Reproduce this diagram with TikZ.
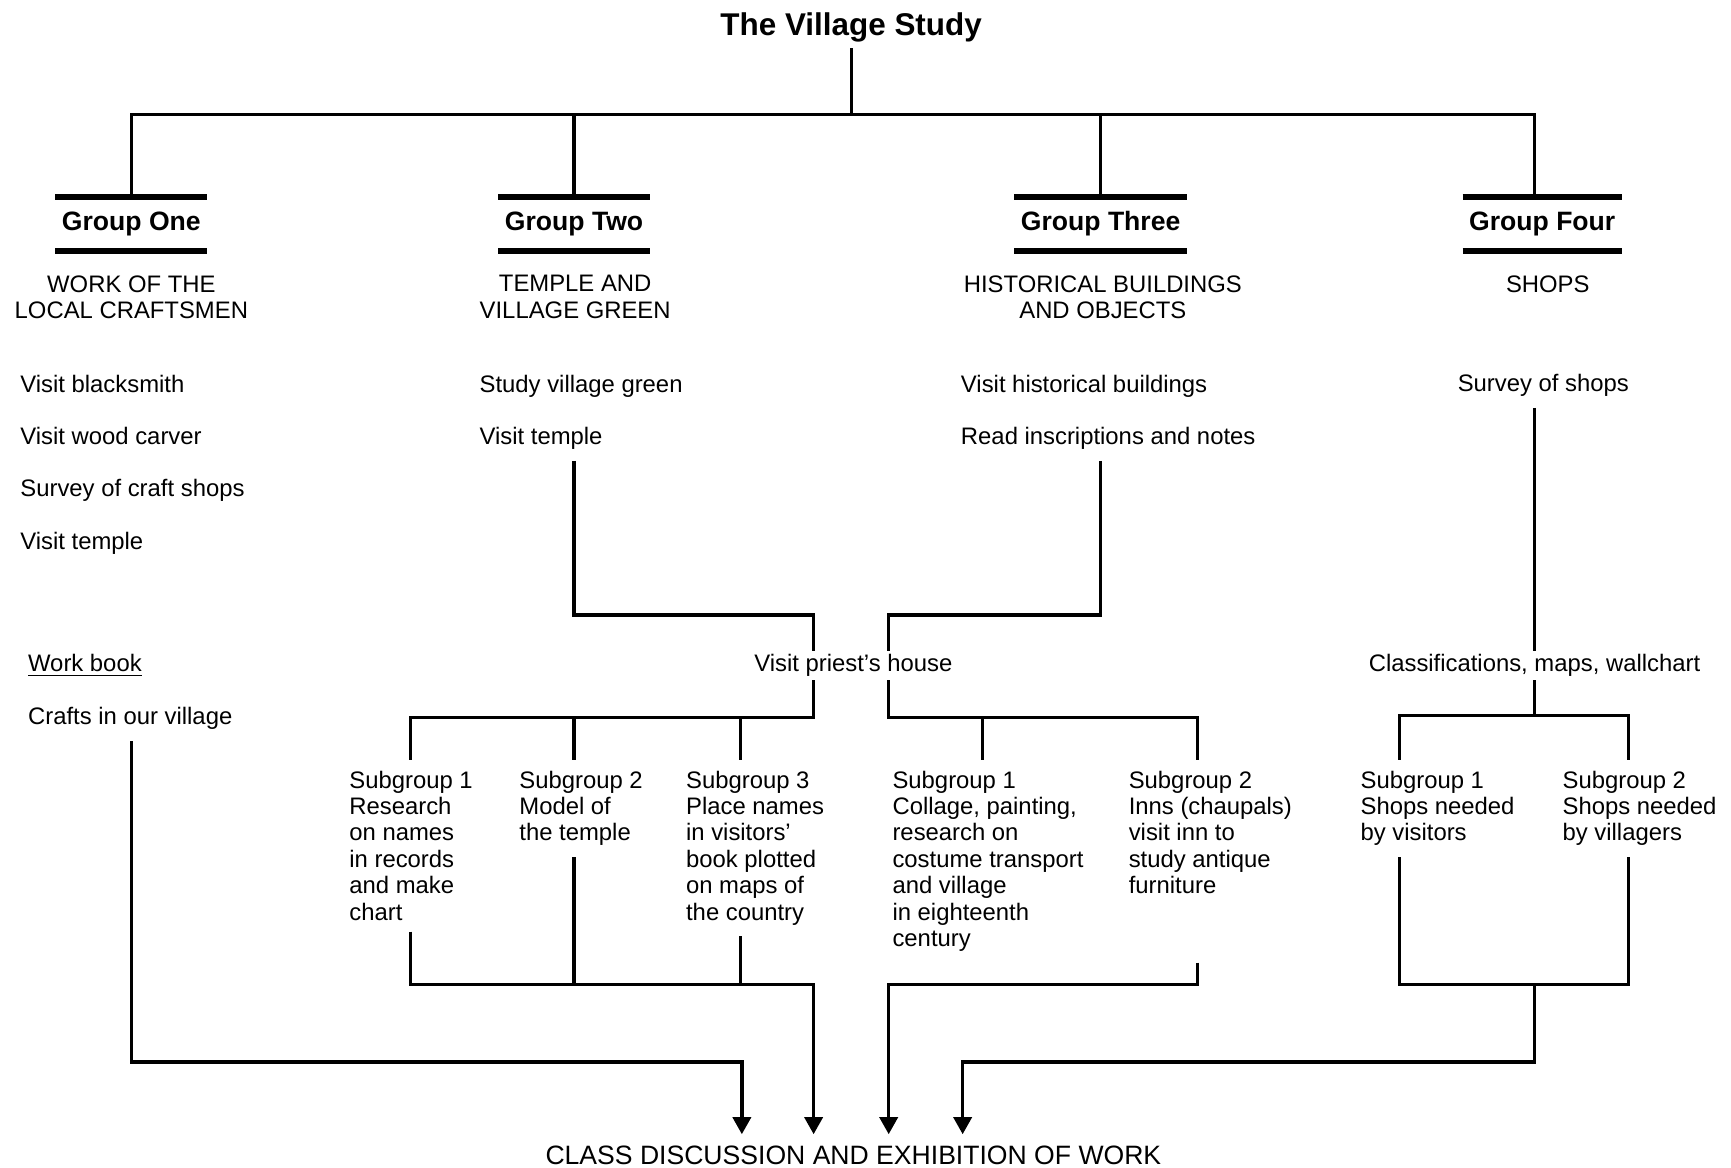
\documentclass[tikz,border=0pt]{standalone}
\usepackage{fontspec}
\setmainfont{Liberation Sans}
\usetikzlibrary{arrows.meta}

\begin{document}
\begin{tikzpicture}[x=0.02cm, y=-0.02cm, line width=1.7pt,
					every node/.style={font=\fontsize{12.3}{13.6}\selectfont},
					txt/.style={anchor=west, inner xsep=0pt, inner ysep=5pt, text height=9pt, text depth=2.5pt},
					sub/.style={anchor=north west, align=left, inner xsep=0pt, inner ysep=5pt},
					subtitle/.style={anchor=north, align=center, inner sep=0pt},
					head/.style={font=\fontsize{13.7}{15}\selectfont\bfseries, minimum height=0.92cm, inner xsep=2.5pt, inner ysep=0pt},
					bar/.style={line width=3pt},
					arr/.style={-{Triangle[length=0.31cm,width=0.33cm]}}]
				\useasboundingbox (0,0) rectangle (1568,1058);
				\node[font=\fontsize{16.2}{18}\selectfont\bfseries, anchor=base, inner ysep=2.3pt] (title) at (771,32) {The Village Study};
				\node[head] (g1) at (119,203) {Group One};
				\node[head] (g2) at (520,203) {Group Two};
				\node[head] (g3) at (997,203) {Group Three};
				\node[head] (g4) at (1397,203) {Group Four};
				\foreach \g in {g1,g2,g3,g4}
					\draw[bar] (\g.north west) -- (\g.north east) (\g.south west) -- (\g.south east);
				\node[subtitle] (t1) at (119,248) {WORK OF THE\\LOCAL CRAFTSMEN};
				\node[subtitle] (t2) at (521,248) {TEMPLE AND\\VILLAGE GREEN};
				\node[subtitle] (t3) at (999,248) {HISTORICAL BUILDINGS\\AND OBJECTS};
				\node[subtitle] (t4) at (1402,248) {SHOPS};

				\node[txt] (a1) at (17,350) {Visit blacksmith};
				\node[txt] (a2) at (17,397) {Visit wood carver};
				\node[txt] (a3) at (17,444) {Survey of craft shops};
				\node[txt] (a4) at (17,492) {Visit temple};
				\node[txt] (a5) at (24,603) {\underline{Work book}};
				\node[txt] (a6) at (24,651) {Crafts in our village};
				\node[txt] (b1) at (433,350) {Study village green};
				\node[txt] (b2) at (433,397) {Visit temple};
				\node[txt] (c1) at (869,350) {Visit historical buildings};
				\node[txt] (c2) at (869,397) {Read inscriptions and notes};
				\node[txt, anchor=center] (d1) at (1398,349) {Survey of shops};
				\node[txt, anchor=center, inner ysep=1pt] (pr) at (773,603) {Visit priest's house};
				\node[txt, anchor=center, inner ysep=1pt] (cl) at (1390,603) {Classifications, maps, wallchart};

				\node[sub] (s21) at (315,688) {Subgroup 1\\Research\\on names\\in records\\and make\\chart};
				\node[sub] (s22) at (469,688) {Subgroup 2\\Model of\\the temple};
				\node[sub] (s23) at (620,688) {Subgroup 3\\Place names\\in visitors'\\book plotted\\on maps of\\the country};
				\node[sub] (s31) at (807,688) {Subgroup 1\\Collage, painting,\\research on\\costume transport\\and village\\in eighteenth\\century};
				\node[sub] (s32) at (1021,688) {Subgroup 2\\Inns (chaupals)\\visit inn to\\study antique\\furniture};
				\node[sub] (s41) at (1231,688) {Subgroup 1\\Shops needed\\by visitors};
				\node[sub] (s42) at (1414,688) {Subgroup 2\\Shops needed\\by villagers};
				\node[font=\fontsize{13.7}{15}\selectfont, anchor=base, inner ysep=5.3pt] (end) at (773,1055) {CLASS DISCUSSION AND EXHIBITION OF WORK};

				\coordinate (top) at (771,104);
				\coordinate (k4) at (1390,104);
				\coordinate (p2) at (737,557);
				\coordinate (p3) at (805,557);
				\coordinate (d21) at (372,650);
				\coordinate (d22) at (520,650);
				\coordinate (d23) at (671,650);
				\coordinate (d31) at (890,650);
				\coordinate (d32) at (1085,650);
				\coordinate (d41) at (1268,648);
				\coordinate (d42) at (1475,648);
				\coordinate (e2) at (737,892);
				\coordinate (e3) at (805,892);
				\coordinate (e4) at (1390,892);
				\coordinate (f1) at (672,962);
				\coordinate (f4) at (872,962);

				\draw (title.south) -- (top);
				\draw (g1.north) |- (top) -| (k4 |- g4.north);
				\draw (g2.north) -- (g2 |- top);
				\draw (g3.north) -- (g3 |- top);
				\draw (b2.south -| g2.north) |- (p2) -- (p2 |- pr.north);
				\draw (c2.south -| g3.north) |- (p3) -- (p3 |- pr.north);
				\draw (d1.south -| k4) -- (k4 |- cl.north);
				\draw (p2 |- pr.south) |- (d21) -- (d21 |- s21.north);
				\draw (d22) -- (d22 |- s22.north);
				\draw (d23) -- (d23 |- s23.north);
				\draw (p3 |- pr.south) |- (d32) -- (d32 |- s32.north);
				\draw (d31) -- (d31 |- s31.north);
				\draw (cl.south -| k4) -- (k4 |- d41);
				\draw (d41 |- s41.north) -- (d41) -- (d42) -- (d42 |- s42.north);

				\draw[arr] (a6.south -| g1.north) |- (f1) -- (f1 |- end.north);
				\draw[arr] (s21.south -| d21) |- (e2) -- (e2 |- end.north);
				\draw (s22.south -| d22) -- (d22 |- e2);
				\draw (s23.south -| d23) -- (d23 |- e2);
				\draw[arr] (s31.south -| d32) |- (e3) -- (e3 |- end.north);
				\draw (s41.south -| d41) -- (d41 |- e4) -- (d42 |- e4) -- (s42.south -| d42);
				\draw[arr] (e4) |- (f4) -- (f4 |- end.north);
			\end{tikzpicture}
\end{document}
